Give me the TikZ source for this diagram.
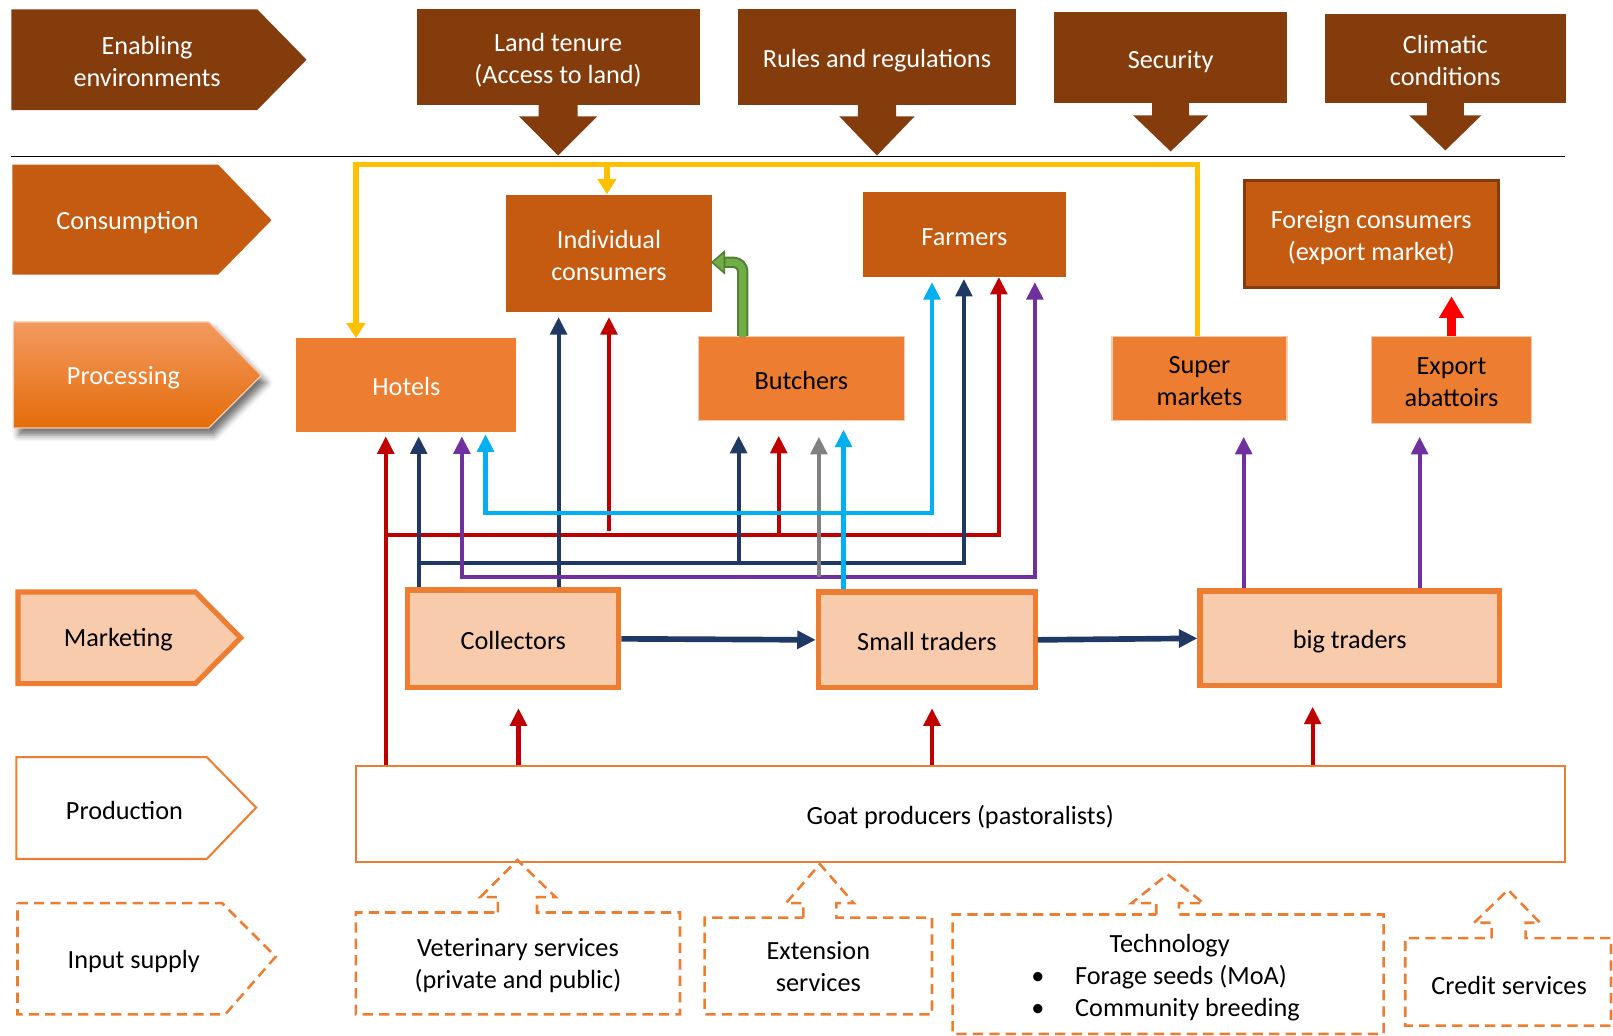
\documentclass[tikz,border=0pt]{standalone}
\usepackage{fontspec}
\setmainfont{Carlito}
\usetikzlibrary{arrows.meta,shadows.blur,calc}
\definecolor{cBrown}{HTML}{843C0C}
\definecolor{cCons}{HTML}{C55A11}
\definecolor{cOrange}{HTML}{ED7D31}
\definecolor{cPeach}{HTML}{F8CBAD}
\definecolor{cRed}{HTML}{C00000}
\definecolor{cNavy}{HTML}{1F3864}
\definecolor{cPurple}{HTML}{7030A0}
\definecolor{cBlue}{HTML}{00B0F0}
\definecolor{cGray}{HTML}{808080}
\definecolor{cYellow}{HTML}{FFC000}
\definecolor{cBright}{HTML}{FF0000}
\definecolor{cGreen}{HTML}{70AD47}
\definecolor{cGreenD}{HTML}{507E32}
\definecolor{cProcTop}{HTML}{F39A60}
\definecolor{cProcBot}{HTML}{E46C0A}
\newcommand\fs{\fontsize{25.5}{31}\selectfont}
\newcommand\tx[1]{\raisebox{-4pt}[\height][\depth]{\begin{tabular}{@{}c@{}}#1\end{tabular}}}
\begin{document}
\begin{tikzpicture}[x=1pt,y=-1pt,
  every node/.style={font=\fs, align=center, inner sep=0pt},
  hdr/.style={rectangle, fill=cBrown, text=white},
  cons/.style={rectangle, fill=cCons, text=white},
  proc/.style={rectangle, fill=cOrange, draw=cPeach, line width=1.2pt},
  mkt/.style={rectangle, fill=cPeach, draw=cOrange, line width=5pt},
  prod/.style={rectangle, fill=white, draw=cOrange, line width=2pt},
  dsh/.style={draw=cOrange, line width=2.5pt, dash pattern=on 10pt off 6pt},
  flow/.style={line width=4pt, -{Triangle[length=17pt,width=16pt]}},
  flowboth/.style={line width=4pt, {Triangle[length=17pt,width=16pt]}-{Triangle[length=17pt,width=16pt]}},
  yel/.style={draw=cYellow, line width=5.5pt, -{Triangle[length=15pt,width=18pt]}},
]
\useasboundingbox (0,0) rectangle (1568,1007);

% ---------- stage pentagons ----------
\fill[cBrown] (11,9) -- (250,9) -- (298,58) -- (250,107) -- (11,107) -- cycle;
\node[text=white] (enabT) at (143,60) {Enabling\\environments};

\fill[cCons] (12,160) -- (212,160) -- (264,214) -- (212,267) -- (12,267) -- cycle;
\node[text=white] (consT) at (124,216) {Consumption};

\path[blur shadow={shadow xshift=5pt, shadow yshift=-7pt, shadow blur radius=6pt, shadow opacity=55},
      top color=cProcTop, bottom color=cProcBot, draw=cPeach, line width=1.2pt]
  (13,313) -- (203,313) -- (254,365) -- (203,416) -- (13,416) -- cycle;
\node[text=white] (procT) at (120,367) {Processing};

\draw[fill=cPeach, draw=cOrange, line width=5pt] (17.5,575.5) -- (190,575.5) -- (234,620) -- (190,664.5) -- (17.5,664.5) -- cycle;
\node (mktT) at (115,622) {Marketing};

\draw[fill=white, draw=cOrange, line width=2pt] (16,736) -- (201,736) -- (249,785) -- (201,835) -- (16,835) -- cycle;
\node (prodT) at (121,788) {Production};

\draw[dsh] (17,878) -- (216,878) -- (268,930) -- (219,986) -- (17,986) -- cycle;
\node (inT) at (130,935) {Input supply};

% ---------- enabling environment boxes ----------
\node[hdr, minimum width=275pt, minimum height=93pt] (land) at (542.5,55.5) {\tx{Land tenure\\(Access to land)}};
\node[hdr, minimum width=271pt, minimum height=93pt] (rules) at (852.5,55.5) {\tx{Rules and regulations}};
\node[hdr, minimum width=226pt, minimum height=89pt] (secu) at (1138,56) {\tx{Security}};
\node[hdr, minimum width=234pt, minimum height=87pt] (clim) at (1405,57) {\tx{Climatic\\conditions}};

\fill[cBrown, shift={(land.south)}] (-19,-1) -- (-19,11) -- (-38,11) -- (0,49) -- (38,11) -- (19,11) -- (19,-1) -- cycle;
\fill[cBrown, shift={(rules.south)}] (-18.5,-1) -- (-18.5,11) -- (-36.5,11) -- (0,49) -- (36.5,11) -- (18.5,11) -- (18.5,-1) -- cycle;
\fill[cBrown, shift={(secu.south)}] (-18,-1) -- (-18,11.5) -- (-36.5,11.5) -- (0,46.5) -- (36.5,11.5) -- (18,11.5) -- (18,-1) -- cycle;
\fill[cBrown, shift={(clim.south)}] (-18,-1) -- (-18,11.5) -- (-35,11.5) -- (0,45.5) -- (35,11.5) -- (18,11.5) -- (18,-1) -- cycle;

\coordinate (lineL) at (11,152);
\coordinate (lineR) at (1521,152);
\draw[black, line width=1.3pt] (lineL) -- (lineR);

% ---------- consumption ----------
\node[cons, minimum width=200pt, minimum height=113pt] (indiv) at (592,246.5) {\tx{Individual\\consumers}};
\node[cons, minimum width=197pt, minimum height=82pt] (farm) at (937.5,228) {\tx{Farmers}};
\node[cons, draw=cBrown, line width=3pt, minimum width=247pt, minimum height=104pt] (foreign) at (1333,227.5) {\tx{Foreign consumers\\(export market)}};

% ---------- processing ----------
\node[rectangle, fill=cOrange, text=white, minimum width=214pt, minimum height=91pt] (hotels) at (395,374.5) {\tx{Hotels}};
\node[proc, minimum width=200pt, minimum height=82pt] (butch) at (779,368) {\tx{Butchers}};
\node[proc, minimum width=170pt, minimum height=82pt] (super) at (1166,368) {\tx{Super\\markets}};
\node[proc, minimum width=156pt, minimum height=85pt] (export) at (1411,369.5) {\tx{Export\\abattoirs}};

% ---------- marketing ----------
\node[mkt, minimum width=205pt, minimum height=95pt] (coll) at (499,621) {\tx{Collectors}};
\node[mkt, minimum width=211pt, minimum height=93pt] (small) at (901,622) {\tx{Small traders}};
\node[mkt, minimum width=291pt, minimum height=92pt] (big) at (1312,620.5) {\tx{big traders}};

% ---------- production ----------
\node[prod, minimum width=1175pt, minimum height=93pt] (goat) at (933.5,791.5) {\tx{Goat producers (pastoralists)}};

% ---------- input supply (dashed callouts) ----------
\draw[dsh] (484,887) -- (484,872) -- (467,872) -- (503,836) -- (540,872) -- (522,872) -- (522,887) -- (661,887) -- (661,986) -- (346,986) -- (346,887) -- cycle;
\node (vet) at (503.5,939) {Veterinary services\\(private and public)};

\draw[dsh] (781,892) -- (781,878) -- (764,878) -- (797,840) -- (830,878) -- (813,878) -- (813,892) -- (906,892) -- (906,986) -- (685,986) -- (685,892) -- cycle;
\node (ext) at (795.5,939.5) {Extension\\services};

\draw[dsh] (1124,889) -- (1124,878) -- (1100,878) -- (1135,850) -- (1170,878) -- (1146,878) -- (1146,889) -- (1345,889) -- (1345,1005) -- (926,1005) -- (926,889) -- cycle;
\node (tech) at (1133,951) {\begin{tabular}{@{}l@{\hspace{30pt}}l@{}}\multicolumn{2}{c}{\hspace{8pt}Technology}\\ \textbullet & Forage seeds (MoA)\\ \textbullet & Community breeding\end{tabular}};

\draw[dsh] (1450,912) -- (1450,897) -- (1433,897) -- (1466,865) -- (1497,897) -- (1483,897) -- (1483,912) -- (1566,912) -- (1566,997) -- (1366,997) -- (1366,912) -- cycle;
\node (credit) at (1467,957.5) {Credit services};

% ---------- helper coordinates ----------
\coordinate (xR1) at (375,0);
\coordinate (xN1) at (407,0);
\coordinate (xP1) at (449,0);
\coordinate (xB1) at (472,0);
\coordinate (xN2) at (543,0);
\coordinate (xR2) at (592,0);
\coordinate (xN3) at (718,0);
\coordinate (xR3) at (757,0);
\coordinate (xG3) at (796,0);
\coordinate (xB3) at (820,0);
\coordinate (xB4) at (906,0);
\coordinate (xN4) at (937,0);
\coordinate (xR4) at (971,0);
\coordinate (xP4) at (1006,0);
\coordinate (xP5) at (1209,0);
\coordinate (xP6) at (1380,0);
\coordinate (xM1) at (504,0);
\coordinate (xM2) at (906,0);
\coordinate (xM3) at (1276,0);
\coordinate (xY1) at (346,0);
\coordinate (xY2) at (590,0);
\coordinate (xY3) at (1164,0);
\coordinate (xGr) at (722,0);
\coordinate (yB) at (0,499);
\coordinate (yR) at (0,520);
\coordinate (yN) at (0,547);
\coordinate (yP) at (0,561);
\coordinate (yY) at (0,160);

% ---------- yellow flows ----------
\draw[yel] (super.north -| xY3) -- (yY -| xY3) -- (yY -| xY1) -- (hotels.north -| xY1);
\draw[yel] (yY -| xY2) -- ([yshift=1pt]indiv.north -| xY2);

% ---------- red flows ----------
\draw[cRed, flow] (goat.north -| xR1) -- ([yshift=-4pt]hotels.south -| xR1);
\draw[cRed, flow] (yR -| xR1) -- (yR -| xR4) -- (farm.south -| xR4);
\draw[cRed, flow] (yR -| xR3) -- ([yshift=-14pt]butch.south -| xR3);
\draw[cRed, flow] ([yshift=4pt]yR -| xR2) -- ([yshift=-5pt]indiv.south -| xR2);

% ---------- navy flows ----------
\draw[cNavy, flow] (coll.north -| xN1) -- ([yshift=-4pt]hotels.south -| xN1);
\draw[cNavy, flow] (yN -| xN1) -- (yN -| xN4) -- ([yshift=-2pt]farm.south -| xN4);
\draw[cNavy, flow] (yN -| xN3) -- ([yshift=-14pt]butch.south -| xN3);
\draw[cNavy, flow] (coll.north -| xN2) -- ([yshift=-5pt]indiv.south -| xN2);

% ---------- purple and gray flows ----------
\draw[cPurple, flowboth] ([yshift=-4pt]hotels.south -| xP1) -- (yP -| xP1) -- (yP -| xP4) -- ([yshift=-5pt]farm.south -| xP4);
\draw[cGray, flow] (yP -| xG3) -- ([yshift=-15pt]butch.south -| xG3);

% ---------- light blue flows ----------
\draw[cBlue, flowboth] ([yshift=-2pt]hotels.south -| xB1) -- (yB -| xB1) -- (yB -| xB4) -- ([yshift=-5pt]farm.south -| xB4);
\draw[cBlue, flow] (small.north -| xB3) -- ([yshift=-8pt]butch.south -| xB3);

% ---------- big traders to processing ----------
\draw[cPurple, flow] (big.north -| xP5) -- ([yshift=-15pt]super.south -| xP5);
\draw[cPurple, flow] (big.north -| xP6) -- ([yshift=-12pt]export.south -| xP6);

% ---------- export ----------
\draw[cBright, line width=8pt, -{Triangle[length=21pt,width=23pt]}] (export.north) -- ([yshift=-7pt]foreign.south -| export.north);

% ---------- marketing chain ----------
\draw[cNavy, line width=5.5pt, -{Triangle[length=18pt,width=17pt]}] (coll.east) -- (small.west);
\draw[cNavy, line width=5.5pt, -{Triangle[length=18pt,width=17pt]}] (small.east) -- (big.west);

% ---------- production to marketing ----------
\draw[cRed, flow] (goat.north -| xM1) -- ([yshift=-17.5pt]coll.south -| xM1);
\draw[cRed, flow] (goat.north -| xM2) -- ([yshift=-17.5pt]small.south -| xM2);
\draw[cRed, flow] (goat.north -| xM3) -- ([yshift=-18pt]big.south -| xM3);

% ---------- green bent arrow (butchers to individual consumers) ----------
\coordinate (gEnd) at ($(indiv.east)+(12,8.5)$);
\draw[cGreenD, line width=11pt, rounded corners=9pt] (butch.north -| xGr) |- (gEnd);
\draw[cGreen, line width=7pt, rounded corners=9pt] ([yshift=-1pt]butch.north -| xGr) |- ([xshift=1pt]gEnd);
\filldraw[fill=cGreen, draw=cGreenD, line width=1.5pt, line join=miter] ($(gEnd)+(0,-10.5)$) -- ($(indiv.east)+(0,8.5)$) -- ($(gEnd)+(0,10.5)$) -- cycle;
\end{tikzpicture}
\end{document}
